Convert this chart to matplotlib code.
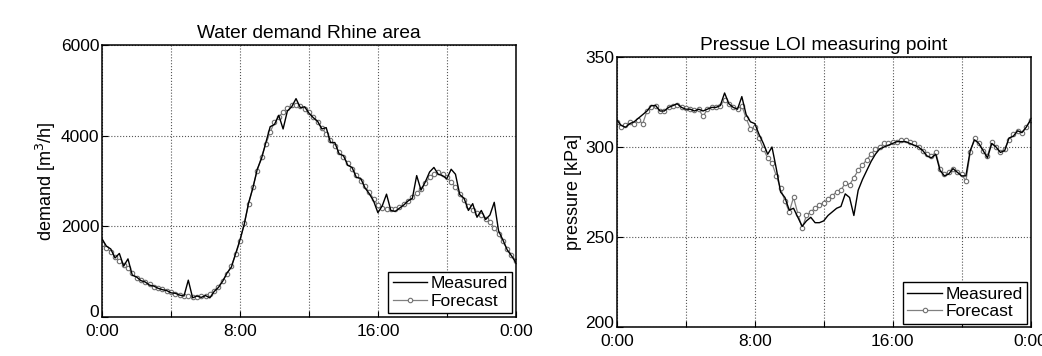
import matplotlib
matplotlib.use("Agg")
import matplotlib.pyplot as plt
import matplotlib.transforms as mtransforms
import numpy as np

plt.rcParams['font.family'] = ['Liberation Sans', 'DejaVu Sans']

# time axis (hours, 15-minute steps)
hours = [i * 0.25 for i in range(97)]

demand_forecast = [
    1610, 1520, 1440, 1330, 1230, 1150, 1070, 960, 860, 810, 760, 715,
    670, 640, 610, 575, 540, 515, 490, 470, 450, 445, 445, 450,
    465, 510, 575, 670, 800, 950, 1130, 1380, 1680, 2080, 2490, 2870,
    3230, 3540, 3820, 4080, 4300, 4420, 4520, 4610, 4670, 4680, 4650, 4600,
    4520, 4420, 4300, 4170, 4040, 3910, 3780, 3650, 3525, 3400, 3270, 3140,
    3010, 2880, 2750, 2610, 2460, 2410, 2390, 2380, 2380, 2420, 2490, 2560,
    2640, 2730, 2820, 2950, 3080, 3150, 3190, 3150, 3080, 2980, 2860, 2720,
    2570, 2450, 2350, 2290, 2240, 2170, 2090, 1970, 1830, 1670, 1500, 1370,
    1240]

demand_measured = [
    1720, 1560, 1500, 1300, 1400, 1120, 1280, 920, 880, 800, 770, 700,
    680, 630, 600, 580, 530, 520, 480, 460, 810, 420, 460, 430,
    470, 420, 560, 650, 790, 970, 1100, 1400, 1700, 2050, 2520, 2850,
    3260, 3500, 3850, 4200, 4250, 4450, 4150, 4550, 4640, 4820, 4620, 4640,
    4500, 4400, 4320, 4150, 4180, 3850, 3850, 3600, 3560, 3350, 3300, 3080,
    3060, 2850, 2720, 2560, 2300, 2450, 2710, 2350, 2330, 2400, 2470, 2560,
    2620, 3120, 2800, 2980, 3200, 3300, 3150, 3120, 3050, 3260, 3150, 2700,
    2620, 2350, 2500, 2200, 2350, 2150, 2250, 2530, 1900, 1700, 1480, 1350,
    1200]

pressure_forecast = [
    314, 311, 312, 314, 313, 315, 313, 320, 322, 323, 320, 320,
    322, 323, 323.5, 322, 321.5, 321, 320.5, 321, 317, 321, 322, 322,
    323, 326, 324, 322, 321, 323, 316, 310, 311, 305, 299, 294,
    291, 284, 277, 270, 264, 272, 263, 255, 262, 264, 266, 268,
    269, 271, 273, 275, 276, 280, 279, 283, 287, 290, 293, 296,
    299, 300, 302, 302, 303, 303, 304, 304, 303, 302, 300, 298,
    296, 295, 297, 288, 285, 286, 288, 286, 285, 281, 297, 305,
    302, 298, 295, 303, 300, 297, 299, 304, 307, 309, 308, 311,
    315]

pressure_measured = [
    315, 312, 311, 313, 314, 316, 318, 320, 323, 323, 320, 320,
    322, 323, 324, 322, 321, 321, 320, 321, 320, 321, 322, 322,
    323, 330, 324, 322, 321, 328, 318, 314, 313, 307, 302, 296,
    300, 288, 275, 272, 265, 266, 261, 256, 259, 261, 258, 258,
    259, 262, 264, 266, 267, 274, 272, 262, 276, 282, 287, 292,
    296, 299, 300, 301, 302, 303, 303, 303, 302, 301, 300, 298,
    295, 294, 296, 287, 284, 285, 288, 286, 284, 284, 298, 304,
    302, 298, 294, 302, 300, 297, 298, 305, 306, 309, 308, 311,
    315]

x_ticks = [0, 4, 8, 12, 16, 20, 24]
x_labels = ['0:00', '', '8:00', '', '16:00', '', '0:00']

fig = plt.figure(figsize=(10.42, 3.56), dpi=100)
ax1 = fig.add_axes([0.098, 0.110, 0.397, 0.763])
ax2 = fig.add_axes([0.592, 0.081, 0.397, 0.759])

def style(ax, yticks, ylim, title, ylabel):
    ax.set_xlim(0, 24)
    ax.set_ylim(*ylim)
    ax.set_xticks(x_ticks)
    ax.set_xticklabels(x_labels)
    ax.set_yticks(yticks)
    ax.grid(True, linestyle=':', color='#555555', linewidth=0.8)
    ax.tick_params(direction='in', labelsize=12.5, length=4, pad=2)
    ax.tick_params(axis='x', pad=5)
    for s in ax.spines.values():
        s.set_linewidth(1.1)
    ax.set_title(title, fontsize=13.8, pad=5)
    ax.set_ylabel(ylabel, fontsize=13, labelpad=2)
    # lift the lowest y label slightly, as in the original (sits just above the x label)
    lbl = ax.get_yticklabels()[0]
    lbl.set_transform(lbl.get_transform() +
                      mtransforms.ScaledTranslation(0, 4 / 72, fig.dpi_scale_trans))

for ax, fc, ms in [(ax1, demand_forecast, demand_measured),
                   (ax2, pressure_forecast, pressure_measured)]:
    ax.plot(hours, ms, color='black', linewidth=1.0, label='Measured', zorder=3)
    ax.plot(hours, fc, color='#808080', linewidth=0.9, marker='o', markersize=3.2,
            markerfacecolor='white', markeredgecolor='#707070', markeredgewidth=0.8,
            label='Forecast', zorder=2)
    leg = ax.legend(loc='lower right', fontsize=12.5, frameon=True, fancybox=False,
                    edgecolor='black', framealpha=1, borderpad=0.25,
                    handlelength=2.0, handletextpad=0.2, labelspacing=0.15,
                    borderaxespad=0.2)
    leg.get_frame().set_linewidth(1.0)

style(ax1, [0, 2000, 4000, 6000], (0, 6000), 'Water demand Rhine area', 'demand [m$^3$/h]')
style(ax2, [200, 250, 300, 350], (200, 350), 'Pressue LOI measuring point', 'pressure [kPa]')

fig.savefig('out.png', dpi=100)
